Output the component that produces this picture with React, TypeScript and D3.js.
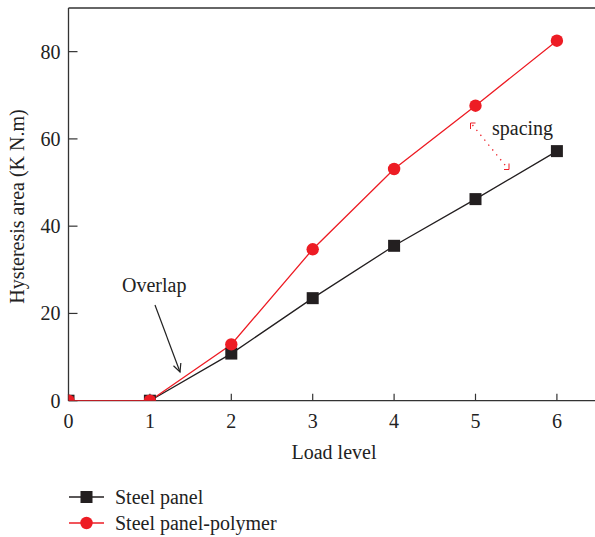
import React, { useEffect, useRef } from 'react'
import * as d3 from 'd3'

const loadLevels = [0, 1, 2, 3, 4, 5, 6]
const steelPanel = [0, 0, 10.8, 23.5, 35.5, 46.2, 57.2]
const steelPolymer = [0, 0, 12.9, 34.7, 53.1, 67.6, 82.5]
const xTicks = [0, 1, 2, 3, 4, 5, 6]
const yTicks = [0, 20, 40, 60, 80]
const seriesNames = ['Steel panel', 'Steel panel-polymer']

const W = 595
const H = 537
const font = '"Liberation Serif", "DejaVu Serif", serif'
const fs = '20px'

const App = () => {
  const ref = useRef<SVGSVGElement>(null)

  useEffect(() => {
    const svg = d3.select(ref.current)
    svg.selectAll('*').remove()

    const x = d3.scaleLinear().domain([0, 6.5]).range([68.5, 597.6])
    const y = d3.scaleLinear().domain([0, 90]).range([400.7, 8])

    const defs = svg.append('defs')
    defs.append('clipPath').attr('id', 'plotClip')
      .append('rect')
      .attr('x', x(0)).attr('y', y(90))
      .attr('width', x(6.5) - x(0)).attr('height', y(0) - y(90))

    // frame: left, top, bottom
    const frame = svg.append('g').attr('stroke', '#333').attr('stroke-width', 1.3)
    frame.append('line').attr('x1', x(0)).attr('x2', x(0)).attr('y1', y(90)).attr('y2', y(0))
    frame.append('line').attr('x1', x(0)).attr('x2', W).attr('y1', y(90)).attr('y2', y(90))
    frame.append('line').attr('x1', x(0)).attr('x2', W).attr('y1', y(0)).attr('y2', y(0))

    // ticks (inward)
    svg.append('g').selectAll('line').data(yTicks).enter().append('line')
      .attr('x1', x(0)).attr('x2', x(0) + 9)
      .attr('y1', d => y(d)).attr('y2', d => y(d))
      .attr('stroke', '#333').attr('stroke-width', 1.2)
    svg.append('g').selectAll('line').data(xTicks).enter().append('line')
      .attr('x1', d => x(d)).attr('x2', d => x(d))
      .attr('y1', y(0)).attr('y2', y(0) - 7)
      .attr('stroke', '#333').attr('stroke-width', 1.2)

    svg.append('g').selectAll('text').data(yTicks).enter().append('text')
      .attr('x', x(0) - 8).attr('y', d => y(d)).attr('dy', '0.35em')
      .attr('text-anchor', 'end')
      .style('font-family', font).style('font-size', fs).style('fill', '#222')
      .text(d => d)
    svg.append('g').selectAll('text').data(xTicks).enter().append('text')
      .attr('x', d => x(d)).attr('y', y(0) + 27)
      .attr('text-anchor', 'middle')
      .style('font-family', font).style('font-size', fs).style('fill', '#222')
      .text(d => d)

    svg.append('text')
      .attr('x', 334).attr('y', 459)
      .attr('text-anchor', 'middle')
      .style('font-family', font).style('font-size', fs).style('fill', '#222')
      .text('Load level')
    svg.append('text')
      .attr('transform', `translate(24, ${y(44.5)}) rotate(-90)`)
      .attr('text-anchor', 'middle')
      .style('font-family', font).style('font-size', fs).style('fill', '#222')
      .text('Hysteresis area (K N.m)')

    const plot = svg.append('g').attr('clip-path', 'url(#plotClip)')
    const line = d3.line<number>().x((d, i) => x(loadLevels[i])).y(d => y(d))

    plot.append('path').datum(steelPanel).attr('d', line)
      .attr('fill', 'none').attr('stroke', '#231f20').attr('stroke-width', 1.3)
    plot.append('path').datum(steelPolymer).attr('d', line)
      .attr('fill', 'none').attr('stroke', '#ed1c24').attr('stroke-width', 1.3)

    plot.selectAll('.sq').data(steelPanel).enter().append('rect')
      .attr('x', (d, i) => x(loadLevels[i]) - 6).attr('y', d => y(d) - 6)
      .attr('width', 12).attr('height', 12).attr('fill', '#231f20')
    plot.selectAll('.ci').data(steelPolymer).enter().append('circle')
      .attr('cx', (d, i) => x(loadLevels[i])).attr('cy', d => y(d))
      .attr('r', 6.2).attr('fill', '#ed1c24')

    // Overlap annotation
    svg.append('text')
      .attr('x', 122).attr('y', 292)
      .style('font-family', font).style('font-size', fs).style('fill', '#222')
      .text('Overlap')
    const ax1 = 155, ay1 = 305, ax2 = 180, ay2 = 372
    const ang = Math.atan2(ay2 - ay1, ax2 - ax1)
    const hl = 9, spread = 0.45
    svg.append('line').attr('x1', ax1).attr('y1', ay1).attr('x2', ax2).attr('y2', ay2)
      .attr('stroke', '#222').attr('stroke-width', 1.2)
    svg.append('path')
      .attr('d', `M${ax2 - hl * Math.cos(ang - spread)},${ay2 - hl * Math.sin(ang - spread)} L${ax2},${ay2} L${ax2 - hl * Math.cos(ang + spread)},${ay2 - hl * Math.sin(ang + spread)}`)
      .attr('fill', 'none').attr('stroke', '#222').attr('stroke-width', 1.2)

    // spacing annotation
    svg.append('text')
      .attr('x', 492).attr('y', 135)
      .style('font-family', font).style('font-size', fs).style('fill', '#222')
      .text('spacing')
    const s1 = [470.5, 123], s2 = [509, 169.5]
    svg.append('line').attr('x1', s1[0] + 2).attr('y1', s1[1] + 2).attr('x2', s2[0] - 2).attr('y2', s2[1] - 2)
      .attr('stroke', '#ed1c24').attr('stroke-width', 1.3).attr('stroke-dasharray', '1.3,5')
    svg.append('path').attr('d', `M${s1[0]},${s1[1] + 6} L${s1[0]},${s1[1]} L${s1[0] + 5},${s1[1]}`)
      .attr('fill', 'none').attr('stroke', '#ed1c24').attr('stroke-width', 1)
    svg.append('path').attr('d', `M${s2[0] - 5},${s2[1]} L${s2[0]},${s2[1]} L${s2[0]},${s2[1] - 6}`)
      .attr('fill', 'none').attr('stroke', '#ed1c24').attr('stroke-width', 1)

    // legend
    const legend = svg.append('g').attr('transform', 'translate(69, 497)')
    const items = legend.selectAll('g').data(seriesNames).enter().append('g')
      .attr('transform', (d, i) => `translate(0, ${i * 26})`)
    items.append('line').attr('x1', 0).attr('x2', 35).attr('y1', 0).attr('y2', 0)
      .attr('stroke', (d, i) => (i === 0 ? '#231f20' : '#ed1c24')).attr('stroke-width', 1.3)
    items.filter((d, i) => i === 0).append('rect')
      .attr('x', 11.5).attr('y', -6).attr('width', 12).attr('height', 12).attr('fill', '#231f20')
    items.filter((d, i) => i === 1).append('circle')
      .attr('cx', 17.5).attr('cy', 0).attr('r', 6.2).attr('fill', '#ed1c24')
    items.append('text')
      .attr('x', 46).attr('y', 0).attr('dy', '0.35em')
      .style('font-family', font).style('font-size', fs).style('fill', '#222')
      .text(d => d)
  }, [])

  return (
    <svg ref={ref} width={W} height={H}
      style={{ position: 'absolute', left: 0, top: 0, background: '#fff' }} />
  )
}

export default App
